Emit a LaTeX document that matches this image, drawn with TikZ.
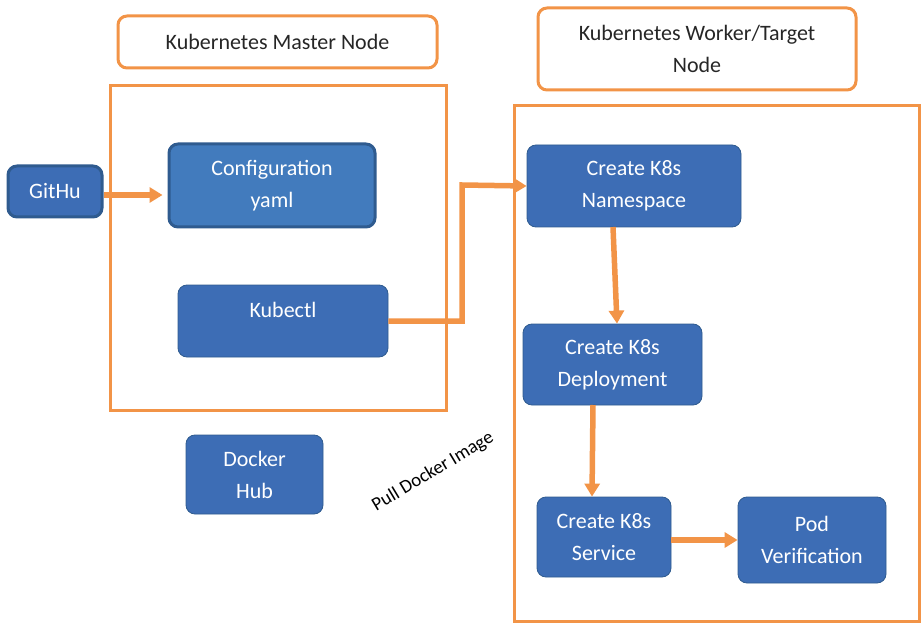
\documentclass[tikz,border=0pt]{standalone}
\usepackage{fontspec}
\setmainfont{Carlito}
\usetikzlibrary{arrows.meta}
\definecolor{kborange}{HTML}{F29447}
\definecolor{kbblue}{HTML}{3D6DB5}
\definecolor{kblight}{HTML}{427BBD}
\definecolor{kbedge}{HTML}{2F5B8F}
\definecolor{kbtext}{HTML}{262626}
\begin{document}
\begin{tikzpicture}[
		x=1pt, y=-1pt,
		title/.style={rectangle, draw=kborange, line width=3pt, rounded corners=9pt, align=center, text=kbtext, font=\fontsize{22}{32}\selectfont},
		group/.style={rectangle, draw=kborange, line width=3pt},
		box/.style={rectangle, draw=kbedge, fill=kbblue, line width=0.8pt, rounded corners=9pt, align=center, text=white, font=\fontsize{22}{32}\selectfont},
		arrow/.style={-{Triangle[length=13pt, width=15pt]}, kborange, line width=5.5pt}
	]
	\useasboundingbox (0,0) rectangle (922,623);

	\draw[group] (110,86) rectangle (446,410);
	\draw[group] (514,106) rectangle (919,621);

	\node[title, minimum width=319pt, minimum height=52pt] (mastertitle) at (277.5,42) {Kubernetes Master Node};
	\node[title, minimum width=318pt, minimum height=82pt] (workertitle) at (697,49) {Kubernetes Worker/Target\\Node};

	\node[box, line width=3pt, minimum width=94pt, minimum height=51pt] (github) at (55,191.5) {GitHu};
	\node[box, fill=kblight, line width=3pt, minimum width=206pt, minimum height=83pt] (config) at (272,185.5) {Configuration\\yaml};
	\node[box, text depth=22pt, minimum width=210pt, minimum height=72pt] (kubectl) at (283,321) {Kubectl};
	\node[box, minimum width=137pt, minimum height=79pt] (docker) at (254.5,474.5) {Docker\\Hub};

	\node[box, minimum width=214pt, minimum height=82pt] (namespace) at (634,186) {Create K8s\\Namespace};
	\node[box, minimum width=179pt, minimum height=81pt] (deploy) at (612.5,364.5) {Create K8s\\Deployment};
	\node[box, minimum width=134pt, minimum height=80pt] (service) at (604,537) {Create K8s\\Service};
	\node[box, minimum width=148pt, minimum height=86pt] (pod) at (812,540) {Pod\\Verification};

	\node[rotate=31, font=\fontsize{19}{22}\selectfont] (pull) at (433,472) {Pull Docker Image};

	% flow
	\draw[arrow] (github.east |- 0,195) -- ([xshift=-5pt]config.west |- 0,195);
	\draw[arrow] (kubectl.east |- 0,321) -- (462,321) -- (462,185) -- (namespace.west);
	\draw[arrow] (613,227) -- (deploy.north -| 617,0);
	\draw[arrow] (593,405) -- (service.north -| 592,0);
	\draw[arrow] (service.east |- 0,540) -- (pod.west);
\end{tikzpicture}
\end{document}
